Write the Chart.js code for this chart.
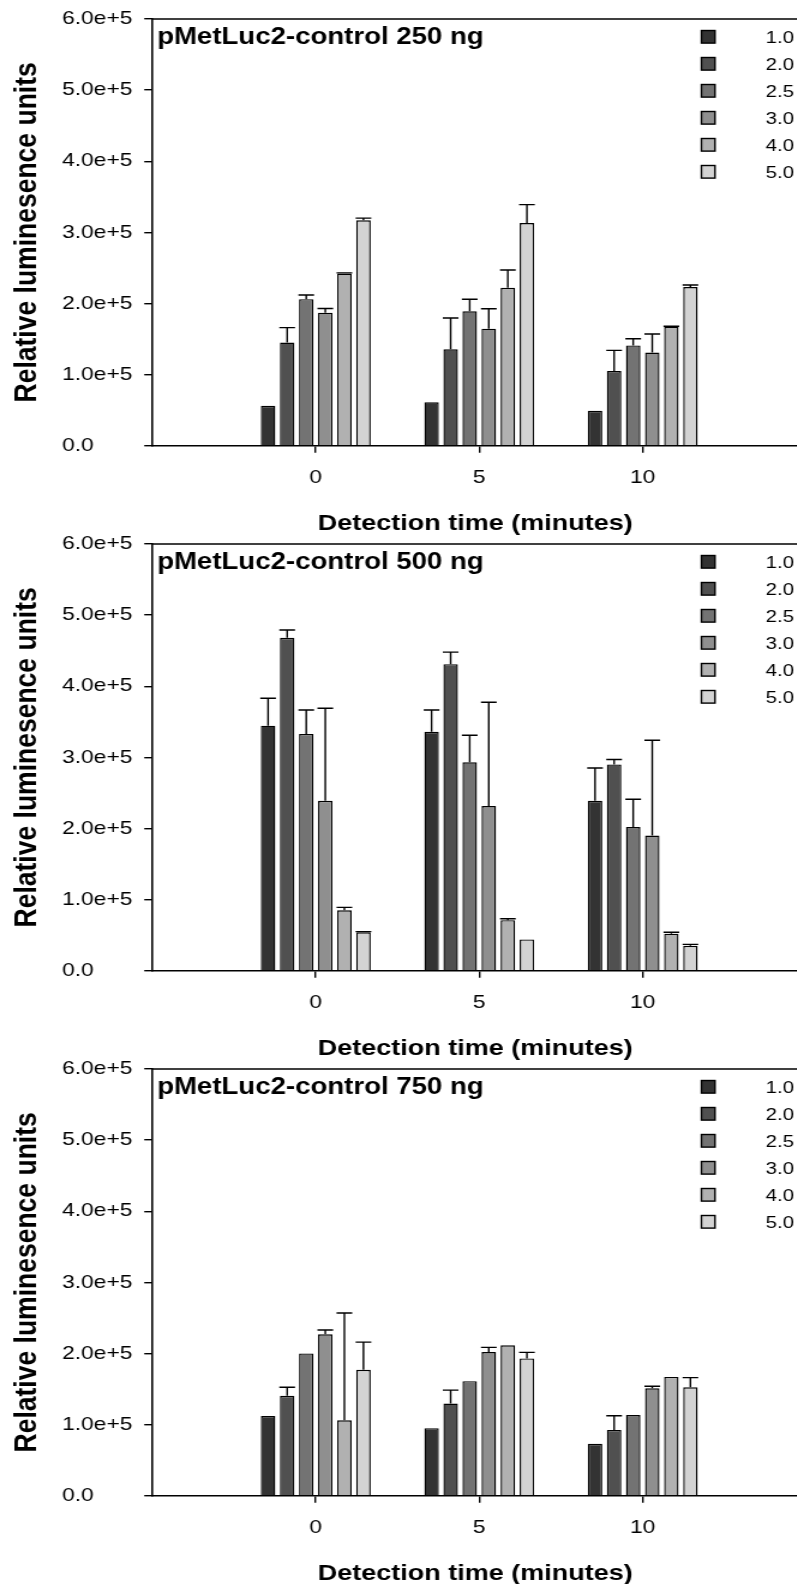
<!DOCTYPE html>
<html>
<head>
<meta charset="utf-8">
<script src="https://cdn.jsdelivr.net/npm/chart.js@4.4.1/dist/chart.umd.min.js"></script>
<style>
  html, body { margin: 0; padding: 0; background: #fff; }
  body { width: 797px; height: 1584px; overflow: hidden; position: relative; }
  /* the source picture is stretched sideways, so each panel is too */
  .panel { position: absolute; left: 0; width: 665px; height: 545px; transform: scaleX(1.2); transform-origin: 0 0; }
  .panel canvas { display: block; }
</style>
</head>
<body>
<div class="panel" style="top:0"><canvas id="chart250" width="665" height="545"></canvas></div>
<div class="panel" style="top:525px"><canvas id="chart500" width="665" height="545"></canvas></div>
<div class="panel" style="top:1050px"><canvas id="chart750" width="665" height="545"></canvas></div>
<script>
// Detection times (x) and concentration series
const timePoints = [0, 5, 10];
const concentrations = ["1.0", "2.0", "2.5", "3.0", "4.0", "5.0"];
const grays = ["#333333", "#505050", "#737373", "#8f8f8f", "#b1b1b1", "#d3d3d3"];
const yTicks = [0, 100000, 200000, 300000, 400000, 500000, 600000];

// 250 ng — one row per concentration, values at 0 / 5 / 10 min
const means250 = [
    [56000, 61000, 49000],
    [145000, 135500, 105000],
    [206000, 189000, 141000],
    [187000, 164500, 131000],
    [242000, 222000, 167000],
    [317000, 313000, 223000],
];
const errors250 = [
    [0, 0, 0],
    [21000, 44000, 29000],
    [6000, 17000, 9400],
    [6000, 28000, 26000],
    [1000, 25000, 1000],
    [3000, 26000, 3000],
];

// 500 ng
const means500 = [
    [344500, 336000, 239000],
    [468000, 431000, 290000],
    [333000, 293000, 202000],
    [239000, 231500, 190000],
    [85000, 71000, 52000],
    [54000, 44000, 35000],
];
const errors500 = [
    [38500, 30500, 46000],
    [11000, 17000, 7000],
    [33500, 38000, 39000],
    [130000, 146000, 134000],
    [4000, 2000, 2000],
    [1000, 0, 2000],
];

// 750 ng
const means750 = [
    [112000, 95000, 73000],
    [140500, 129500, 92500],
    [200000, 161000, 113500],
    [227000, 202000, 151000],
    [106000, 211500, 167000],
    [177000, 193000, 152500],
];
const errors750 = [
    [0, 0, 0],
    [12000, 19000, 20000],
    [0, 0, 0],
    [6000, 6500, 3000],
    [151000, 0, 0],
    [39000, 8500, 13500],
];

const fontFamily = '"Liberation Sans", Arial, Helvetica, sans-serif';
Chart.defaults.font.family = fontFamily;
Chart.defaults.color = "#000";

// upward-only error bars with a cap
const errorBars = {
    id: "errorBars",
    afterDatasetsDraw(chart) {
        const { ctx } = chart;
        const yScale = chart.scales.y;
        ctx.save();
        ctx.strokeStyle = "#000";
        ctx.lineWidth = 1.4;
        chart.data.datasets.forEach((ds, i) => {
            chart.getDatasetMeta(i).data.forEach((bar, j) => {
                const err = ds.errors[j];
                if (!err) return;
                const top = yScale.getPixelForValue(ds.data[j].y + err);
                const half = bar.width / 2 + 0.5;
                ctx.beginPath();
                ctx.moveTo(bar.x, bar.y);
                ctx.lineTo(bar.x, top);
                ctx.moveTo(bar.x - half, top);
                ctx.lineTo(bar.x + half, top);
                ctx.stroke();
            });
        });
        ctx.restore();
    },
};

// top frame line, panel label and the key in the top right corner
const panelDecor = {
    id: "panelDecor",
    afterDraw(chart, args, opts) {
        const { ctx, chartArea: a } = chart;
        ctx.save();
        ctx.strokeStyle = "#000";
        ctx.lineWidth = 1.6;
        ctx.beginPath();
        ctx.moveTo(a.left, a.top);
        ctx.lineTo(a.right, a.top);
        ctx.stroke();

        ctx.fillStyle = "#000";
        ctx.font = "bold 23px " + fontFamily;
        ctx.textBaseline = "alphabetic";
        ctx.fillText(opts.label, a.left + 4, a.top + 24.5);

        ctx.lineWidth = 1.4;
        chart.data.datasets.forEach((ds, i) => {
            const cy = a.top + 17.8 + i * 27;
            ctx.fillStyle = ds.backgroundColor;
            ctx.fillRect(584.5, cy - 6.3, 11.3, 12.6);
            ctx.strokeRect(584.5, cy - 6.3, 11.3, 12.6);
            ctx.fillStyle = "#000";
            ctx.font = "17px " + fontFamily;
            ctx.textBaseline = "middle";
            ctx.fillText(ds.label, 638, cy + 1.4);
        });
        ctx.restore();
    },
};

function makePanel(canvasId, label, means, errors) {
    const ctx = document.getElementById(canvasId).getContext("2d");
    return new Chart(ctx, {
        type: "bar",
        data: {
            datasets: concentrations.map((c, i) => ({
                label: c,
                data: timePoints.map((t, j) => ({ x: t, y: means[i][j] })),
                errors: errors[i],
                backgroundColor: grays[i],
                borderColor: "#000",
                borderWidth: 1.4,
                categoryPercentage: 0.7,
                barPercentage: 0.76,
            })),
        },
        options: {
            responsive: false,
            animation: false,
            events: [],
            layout: { padding: { top: 19, left: 0, right: 0, bottom: 0 } },
            scales: {
                x: {
                    type: "linear",
                    min: -5,
                    max: 14.75,
                    offset: false,
                    z: 1,
                    afterBuildTicks: (axis) => {
                        axis.ticks = timePoints.map((v) => ({ value: v }));
                    },
                    afterFit: (axis) => {
                        axis.height = 99.3;
                    },
                    ticks: {
                        font: { size: 19 },
                        color: "#000",
                        padding: 13.9,
                        maxRotation: 0,
                        callback: (v) => String(v),
                    },
                    grid: {
                        offset: false,
                        drawOnChartArea: false,
                        drawTicks: true,
                        tickLength: 7,
                        color: "#000",
                        lineWidth: 1.4,
                    },
                    border: { display: true, color: "#000", width: 1.6 },
                    title: {
                        display: true,
                        text: "Detection time (minutes)",
                        font: { size: 22.5, weight: "bold" },
                        color: "#000",
                        padding: { top: 0, bottom: 7.9 },
                    },
                },
                y: {
                    min: 0,
                    max: 600000,
                    z: 1,
                    afterBuildTicks: (axis) => {
                        axis.ticks = yTicks.map((v) => ({ value: v }));
                    },
                    afterFit: (axis) => {
                        axis.width = 75.2;
                    },
                    ticks: {
                        crossAlign: "far",
                        font: { size: 19 },
                        color: "#000",
                        callback: (v) => (v === 0 ? "0.0" : (v / 1e5).toFixed(1) + "e+5"),
                    },
                    grid: {
                        drawOnChartArea: false,
                        drawTicks: true,
                        tickLength: 6.7,
                        color: "#000",
                        lineWidth: 1.4,
                    },
                    border: { display: true, color: "#000", width: 1.6 },
                },
            },
            plugins: {
                legend: { display: false },
                tooltip: { enabled: false },
                title: {
                    display: true,
                    position: "left",
                    fullSize: false,
                    text: "Relative luminesence units",
                    color: "#000",
                    font: { size: 26.5, weight: "bold", lineHeight: 1.2 },
                    padding: { top: 6.3, bottom: 13.6 },
                },
                panelDecor: { label: label },
            },
        },
        plugins: [errorBars, panelDecor],
    });
}

makePanel("chart250", "pMetLuc2-control 250 ng", means250, errors250);
makePanel("chart500", "pMetLuc2-control 500 ng", means500, errors500);
makePanel("chart750", "pMetLuc2-control 750 ng", means750, errors750);
</script>
</body>
</html>
